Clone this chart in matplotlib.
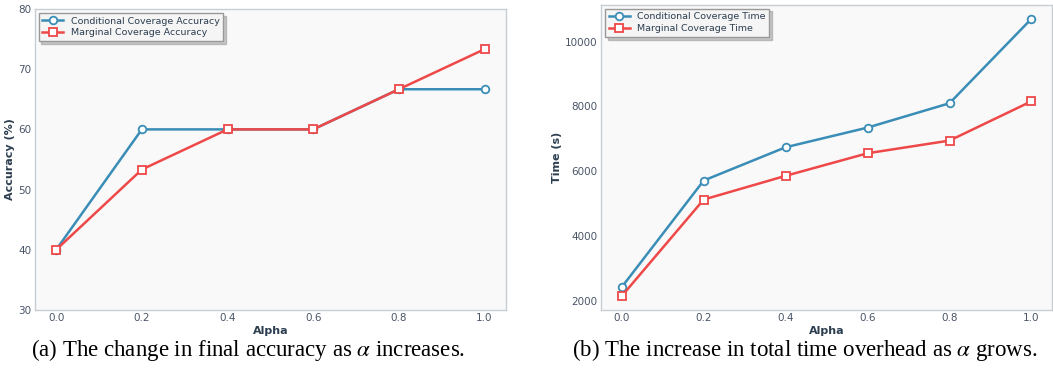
import matplotlib
matplotlib.use("Agg")
import matplotlib.pyplot as plt

# data
alpha = [0.0, 0.2, 0.4, 0.6, 0.8, 1.0]
acc_conditional = [40.0, 60.0, 60.0, 60.0, 66.67, 66.67]
acc_marginal = [40.0, 53.33, 60.0, 60.0, 66.67, 73.33]
time_conditional = [2440, 5720, 6745, 7350, 8100, 10700]
time_marginal = [2165, 5135, 5865, 6560, 6950, 8160]

BLUE = "#3A8DB6"
RED = "#EE4848"
TEXT = "#2C3E50"
TICK = "#4A5568"
SPINE = "#C8CDD2"

plt.rcParams["font.family"] = "DejaVu Sans"
plt.rcParams["mathtext.fontset"] = "stix"

fig = plt.figure(figsize=(10.53, 3.77), dpi=100)
ax_l = fig.add_axes([0.033, 0.178, 0.4475, 0.798])
ax_r = fig.add_axes([0.571, 0.178, 0.428, 0.809])


def style(ax, ylabel):
    ax.set_facecolor("#F9F9F9")
    for s in ax.spines.values():
        s.set_color(SPINE)
        s.set_linewidth(1.0)
    ax.tick_params(axis="both", length=0, labelsize=7.5, colors=TICK, pad=2.5)
    ax.set_xlabel("Alpha", fontsize=8, fontweight="bold", color=TEXT, labelpad=2)
    ax.set_ylabel(ylabel, fontsize=8, fontweight="bold", color=TEXT, labelpad=2)
    ax.set_xlim(-0.05, 1.05)
    ax.set_xticks(alpha)


line_kw = dict(lw=1.8, markersize=5.5, markerfacecolor="white", markeredgewidth=1.3)

ax_l.plot(alpha, acc_conditional, marker="o", color=BLUE, label="Conditional Coverage Accuracy", **line_kw)
ax_l.plot(alpha, acc_marginal, marker="s", color=RED, label="Marginal Coverage Accuracy", **line_kw)
ax_l.set_ylim(30, 80)
ax_l.set_yticks([30, 40, 50, 60, 70, 80])
style(ax_l, "Accuracy (%)")

ax_r.plot(alpha, time_conditional, marker="o", color=BLUE, label="Conditional Coverage Time", **line_kw)
ax_r.plot(alpha, time_marginal, marker="s", color=RED, label="Marginal Coverage Time", **line_kw)
ax_r.set_yticks([2000, 4000, 6000, 8000, 10000])
style(ax_r, "Time (s)")

for ax in (ax_l, ax_r):
    leg = ax.legend(loc="upper left", fontsize=6.8, frameon=True,
                    shadow={"color": "#888888", "alpha": 0.45},
                    fancybox=False, borderpad=0.4, handlelength=2.2,
                    labelspacing=0.3, borderaxespad=0.4)
    leg.get_frame().set_edgecolor("#999999")
    leg.get_frame().set_facecolor("#F5F5F5")
    for t in leg.get_texts():
        t.set_color(TEXT)

fig.text(0.236, 0.072, r"(a) The change in final accuracy as $\alpha$ increases.",
         ha="center", va="center", fontsize=16.5, family="Liberation Serif")
fig.text(0.764, 0.072, r"(b) The increase in total time overhead as $\alpha$ grows.",
         ha="center", va="center", fontsize=16.5, family="Liberation Serif")

fig.savefig("out.png", dpi=100)
